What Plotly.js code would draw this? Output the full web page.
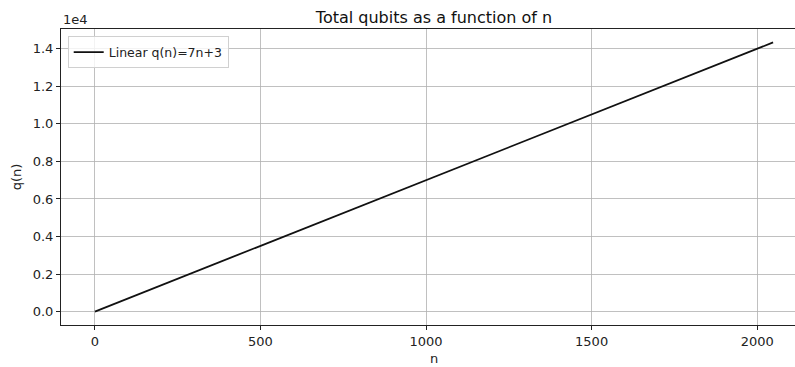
<!DOCTYPE html>
<html>
<head>
<meta charset="utf-8">
<script src="https://cdn.plot.ly/plotly-3.0.1.min.js"></script>
<style>
html,body{margin:0;padding:0;overflow:hidden;background:#fff;}
#chart{width:815px;height:367px;}
</style>
</head>
<body>
<div id="chart"></div>
<script>
// Data: q(n) = 7n + 3
const nValues = [0, 256, 512, 768, 1024, 1280, 1536, 1792, 2048];
const qValues = [3, 1795, 3587, 5379, 7171, 8963, 10755, 12547, 14339];
const yTickVals = [0, 2000, 4000, 6000, 8000, 10000, 12000, 14000];
const yTickText = ['0.0', '0.2', '0.4', '0.6', '0.8', '1.0', '1.2', '1.4'];
const xTickVals = [0, 500, 1000, 1500, 2000];

const font = {family: 'DejaVu Sans, sans-serif', size: 13, color: '#222'};

const trace = {
  x: nValues, y: qValues, type: 'scatter', mode: 'lines',
  name: 'Linear q(n)=7n+3',
  line: {color: '#111111', width: 1.8}
};

const layout = {
  width: 815, height: 367,
  margin: {l: 61, r: 8, t: 29, b: 42},
  paper_bgcolor: '#fff', plot_bgcolor: '#fff',
  font: font,
  title: {text: 'Total qubits as a function of n', x: 0.5, xref: 'paper', xanchor: 'center',
          y: 1, yref: 'paper', yanchor: 'bottom', pad: {b: 6},
          font: {family: 'DejaVu Sans, sans-serif', size: 16, color: '#111'}},
  xaxis: {
    range: [-102.4, 2150.4], tickvals: xTickVals, ticktext: xTickVals.map(String),
    showgrid: true, gridcolor: '#b0b0b0', gridwidth: 0.8,
    showline: true, linecolor: '#222', linewidth: 1, mirror: true,
    ticks: 'outside', ticklen: 4, tickcolor: '#222', zeroline: false,
    tickfont: {family: 'DejaVu Sans, sans-serif', size: 13, color: '#222'},
    title: {text: 'n', font: {family: 'DejaVu Sans, sans-serif', size: 13, color: '#222'}, standoff: 6},
    automargin: false
  },
  yaxis: {
    range: [-713.8, 15055.8], tickvals: yTickVals, ticktext: yTickText,
    showgrid: true, gridcolor: '#b0b0b0', gridwidth: 0.8,
    showline: true, linecolor: '#222', linewidth: 1, mirror: true,
    ticks: 'outside', ticklen: 4, tickcolor: '#222', zeroline: false,
    tickfont: {family: 'DejaVu Sans, sans-serif', size: 13, color: '#222'},
    title: {text: 'q(n)', font: {family: 'DejaVu Sans, sans-serif', size: 13, color: '#222'}, standoff: 8},
    automargin: false
  },
  showlegend: true,
  legend: {x: 0.009, y: 0.975, xanchor: 'left', yanchor: 'top',
           bgcolor: 'rgba(255,255,255,0.8)', bordercolor: '#d0d0d0', borderwidth: 1,
           font: {family: 'DejaVu Sans, sans-serif', size: 12.5, color: '#222'}},
  annotations: [{
    text: '1e4', xref: 'paper', yref: 'paper', x: 0, y: 1, xanchor: 'left', yanchor: 'bottom',
    showarrow: false, font: font, yshift: 0
  }]
};

Plotly.newPlot('chart', [trace], layout, {displayModeBar: false, staticPlot: true});
</script>
</body>
</html>
